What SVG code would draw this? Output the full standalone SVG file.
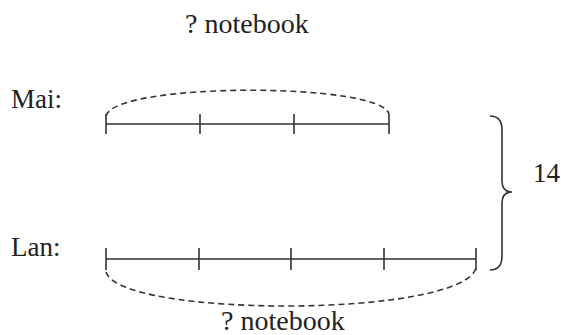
<svg xmlns="http://www.w3.org/2000/svg" width="561" height="335" viewBox="0 0 561 335">
<style>
text{font-family:"Liberation Serif","Times New Roman",serif;font-size:27px;fill:#222}
.nb{font-size:28px}
.seg{stroke:#333;stroke-width:1.6;fill:none}
.dash{stroke:#333;stroke-width:1.6;fill:none;stroke-dasharray:6,4}
</style>
<rect width="561" height="335" fill="#fff"/>
<g id="label-top"><text class="nb" x="185" y="33">? notebook</text></g>
<g id="mai">
<text x="11" y="108">Mai:</text>
<path class="seg" d="M106,124 H389 M106,114 V134 M200,114 V134 M294,114 V134 M389,114 V134"/>
</g>
<g id="lan">
<text x="11" y="256">Lan:</text>
<path class="seg" d="M106,259 H476 M106,248 V270 M199,248 V270 M291,248 V270 M384,248 V270 M476,248 V270"/>
</g>
<g id="connectors">
<path class="dash" d="M106,116 C114,82 381,82 389,114"/>
<path class="dash" d="M106,272 C120,318 462,318 476,268"/>
<path class="seg" d="M490,116 Q502,116 502,130 L502,181 Q502,192 512,192 Q502,192 502,203 L502,256 Q502,270 490,270"/>
</g>
<g id="total"><text x="533" y="182">14</text></g>
<g id="label-bottom"><text class="nb" x="221" y="330">? notebook</text></g>
</svg>
